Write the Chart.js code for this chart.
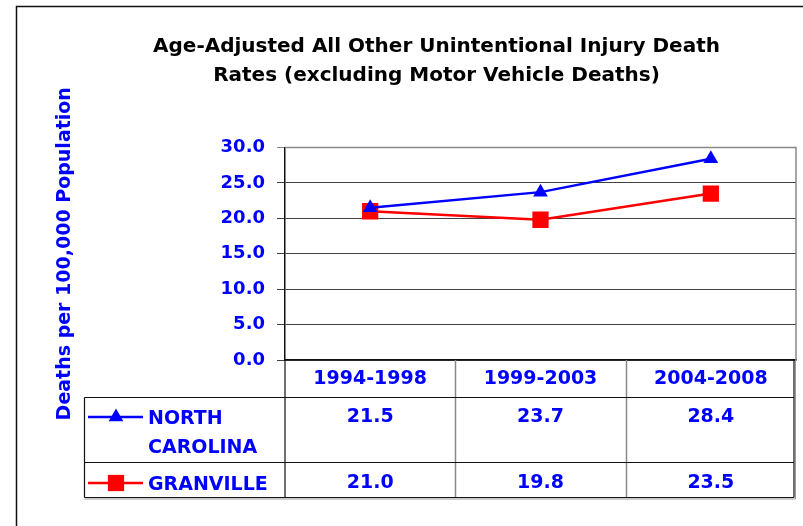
<!DOCTYPE html>
<html><head><meta charset="utf-8">
<script src="https://cdn.jsdelivr.net/npm/chart.js@4"></script>
<style>html,body{margin:0;padding:0;background:#fff}#wrap{width:803px;height:526px;position:relative}</style>
</head><body><div id="wrap"><canvas id="c" width="803" height="526"></canvas></div>
<script>
const categories = ['1994-1998', '1999-2003', '2004-2008'];
const seriesNames = ['NORTH CAROLINA', 'GRANVILLE'];
const legendLines = [['NORTH', 'CAROLINA'], ['GRANVILLE']];
const northCarolina = [21.5, 23.7, 28.4];
const granville = [21.0, 19.8, 23.5];
const titleLines = ['Age-Adjusted All Other Unintentional Injury Death', 'Rates (excluding Motor Vehicle Deaths)'];
const yAxisTitle = 'Deaths per 100,000 Population';

const BLUE = '#0000FF', RED = '#FF0000';
const FONT = 'DejaVu Sans';

function drawMarker(ctx, style, x, y, r, color) {
  ctx.save();
  ctx.fillStyle = color;
  ctx.beginPath();
  if (style === 'triangle') {
    let rad = 0;
    ctx.moveTo(x + Math.sin(rad) * r, y - Math.cos(rad) * r);
    rad += Math.PI * 2 / 3;
    ctx.lineTo(x + Math.sin(rad) * r, y - Math.cos(rad) * r);
    rad += Math.PI * 2 / 3;
    ctx.lineTo(x + Math.sin(rad) * r, y - Math.cos(rad) * r);
    ctx.closePath();
  } else {
    const s = Math.SQRT1_2 * r;
    ctx.rect(x - s, y - s, 2 * s, 2 * s);
  }
  ctx.fill();
  ctx.restore();
}

const framePlugin = {
  id: 'frame',
  beforeDraw(chart) {
    const ctx = chart.ctx;
    ctx.save();
    ctx.fillStyle = '#fff';
    ctx.fillRect(0, 0, chart.width, chart.height);
    ctx.strokeStyle = '#111';
    ctx.lineWidth = 1.5;
    ctx.beginPath();
    ctx.moveTo(16.5, chart.height);
    ctx.lineTo(16.5, 6.5);
    ctx.lineTo(chart.width, 6.5);
    ctx.stroke();
    ctx.restore();
  }
};

const tablePlugin = {
  id: 'dataTable',
  afterDraw(chart) {
    const ctx = chart.ctx, xs = chart.scales.x, area = chart.chartArea;
    const n = categories.length;
    const colW = xs.getPixelForValue(1) - xs.getPixelForValue(0);
    const bounds = [];
    for (let i = 0; i <= n; i++) bounds.push(xs.getPixelForValue(0) - colW / 2 + i * colW);
    const tableLeft = 84.5;
    const rowTop = [397.5, 462.5];
    const tableBottom = 497.5;
    const tableRight = area.right - 2;
    ctx.save();
    ctx.strokeStyle = '#888';
    ctx.lineWidth = 1.5;
    ctx.beginPath();
    ctx.moveTo(area.left, area.top);
    ctx.lineTo(area.right, area.top);
    ctx.lineTo(area.right, area.bottom);
    ctx.stroke();
    for (let i = 1; i < n; i++) {
      ctx.strokeStyle = '#888';
      ctx.beginPath();
      ctx.moveTo(Math.round(bounds[i]) + 0.5, area.bottom);
      ctx.lineTo(Math.round(bounds[i]) + 0.5, tableBottom);
      ctx.stroke();
    }
    ctx.strokeStyle = '#111';
    ctx.lineWidth = 1.2;
    ctx.beginPath();
    ctx.moveTo(area.left, area.bottom);
    ctx.lineTo(area.left, tableBottom);
    ctx.moveTo(tableRight, area.bottom);
    ctx.lineTo(tableRight, tableBottom);
    ctx.moveTo(tableLeft, rowTop[0]);
    ctx.lineTo(tableLeft, tableBottom);
    rowTop.forEach(y => { ctx.moveTo(tableLeft, y); ctx.lineTo(tableRight, y); });
    ctx.moveTo(tableLeft, tableBottom);
    ctx.lineTo(tableRight, tableBottom);
    ctx.stroke();
    ctx.strokeStyle = '#999';
    ctx.lineWidth = 1;
    ctx.beginPath();
    ctx.moveTo(tableLeft, tableBottom + 1.5);
    ctx.lineTo(tableRight + 1.5, tableBottom + 1.5);
    ctx.lineTo(tableRight + 1.5, area.bottom);
    ctx.stroke();

    const rowsY = [417, 483];
    const styles = ['triangle', 'rect'];
    const colors = [BLUE, RED];
    const radii = [8.5, 11.5];
    const series = [northCarolina, granville];
    ctx.font = 'bold 19px "' + FONT + '"';
    ctx.textBaseline = 'middle';
    for (let s = 0; s < 2; s++) {
      const y = rowsY[s];
      ctx.strokeStyle = colors[s];
      ctx.lineWidth = 2.5;
      ctx.beginPath();
      ctx.moveTo(88, y);
      ctx.lineTo(143, y);
      ctx.stroke();
      drawMarker(ctx, styles[s], 116, y, radii[s], colors[s]);
      ctx.fillStyle = BLUE;
      ctx.textAlign = 'left';
      legendLines[s].forEach((t, k) => ctx.fillText(t, 148, y + 2 + k * 29));
      ctx.textAlign = 'center';
      series[s].forEach((v, i) => ctx.fillText(v.toFixed(1), xs.getPixelForValue(i), y));
    }
    ctx.restore();
  }
};

new Chart(document.getElementById('c'), {
  type: 'line',
  data: {
    labels: categories,
    datasets: [
      { label: seriesNames[0], data: northCarolina, borderColor: BLUE, backgroundColor: BLUE,
        borderWidth: 2.5, pointStyle: 'triangle', pointRadius: 8.5, pointHoverRadius: 8.5, pointBorderWidth: 0, tension: 0 },
      { label: seriesNames[1], data: granville, borderColor: RED, backgroundColor: RED,
        borderWidth: 2.5, pointStyle: 'rect', pointRadius: 11.5, pointHoverRadius: 11.5, pointBorderWidth: 0, tension: 0 }
    ]
  },
  options: {
    responsive: false,
    animation: false,
    devicePixelRatio: 1,
    layout: { autoPadding: false, padding: { left: 77, right: 7, top: 0, bottom: 0 } },
    plugins: {
      legend: { display: false },
      tooltip: { enabled: false },
      title: {
        display: true,
        text: titleLines,
        color: '#000',
        font: { family: FONT, size: 20, weight: 'bold', lineHeight: 1.45 },
        padding: { top: 32.5, bottom: 57 }
      }
    },
    scales: {
      x: {
        offset: true,
        afterFit(scale) { scale.height = 166; },
        grid: { display: true, drawOnChartArea: false, drawTicks: false },
        border: { display: true, color: '#111', width: 1.5 },
        ticks: { color: BLUE, padding: 8, font: { family: FONT, size: 19, weight: 'bold' }, maxRotation: 0 }
      },
      y: {
        min: 0, max: 30,
        afterFit(scale) { scale.width = 208; },
        grid: { color: ctx => (ctx.tick && ctx.tick.value === 30) ? '#888' : '#404040', tickLength: 8, lineWidth: 1 },
        border: { display: true, color: '#111', width: 1.5 },
        ticks: { stepSize: 5, color: BLUE, padding: 12, font: { family: FONT, size: 18, weight: 'bold' },
          callback: v => Number(v).toFixed(1) },
        title: { display: true, text: yAxisTitle, color: BLUE,
          font: { family: FONT, size: 19, weight: 'bold', lineHeight: 1.2 }, padding: { top: -23.4, bottom: 0 } }
      }
    }
  },
  plugins: [framePlugin, tablePlugin]
});
</script>
</body></html>
